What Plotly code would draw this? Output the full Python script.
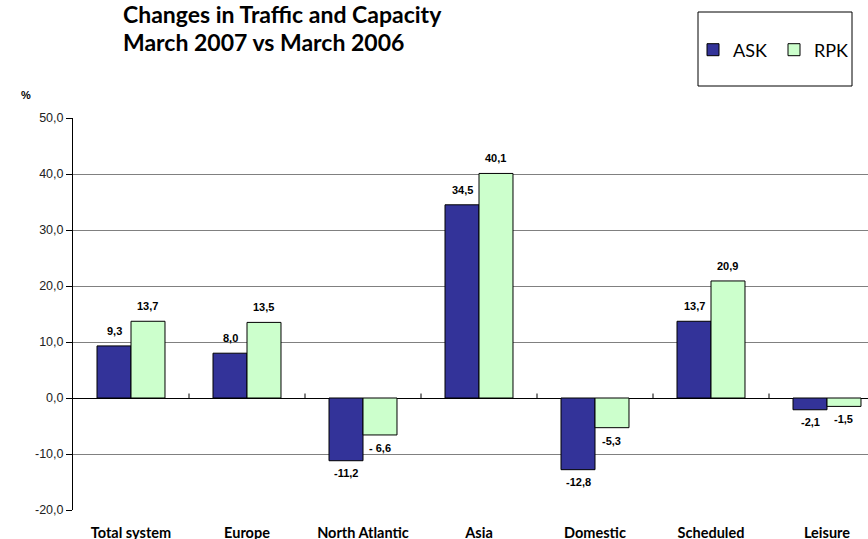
import plotly.graph_objects as go

categories = ["Total system", "Europe", "North Atlantic", "Asia", "Domestic", "Scheduled", "Leisure"]
ask_values = [9.3, 8.0, -11.2, 34.5, -12.8, 13.7, -2.1]
rpk_values = [13.7, 13.5, -6.6, 40.1, -5.3, 20.9, -1.5]
ask_labels = ["9,3", "8,0", "-11,2", "34,5", "-12,8", "13,7", "-2,1"]
rpk_labels = ["13,7", "13,5", "- 6,6", "40,1", "-5,3", "20,9", "-1,5"]
y_ticks = [-20, -10, 0, 10, 20, 30, 40, 50]
y_ticklabels = ["-20,0", "-10,0", "0,0", "10,0", "20,0", "30,0", "40,0", "50,0"]

W, H = 868, 539
L, R, T, B = 73, 0, 118, 29
pw = W - L - R
ph = H - T - B

def px_x(p):
    return (p - L) / pw

def px_y(p):
    return (H - B - p) / ph

BARGAP = 0.414
half = (1 - BARGAP) / 4.0  # offset of each bar centre from category centre

label_font = dict(family="Arial, Liberation Sans, sans-serif", size=11, color="black")

fig = go.Figure()
fig.add_trace(go.Bar(
    x=categories, y=ask_values, name="ASK",
    marker=dict(color="#333399", line=dict(color="black", width=1)),
))
fig.add_trace(go.Bar(
    x=categories, y=rpk_values, name="RPK",
    marker=dict(color="#CCFFCC", line=dict(color="black", width=1)),
))

annotations = []
for i, (v, t) in enumerate(zip(ask_values, ask_labels)):
    annotations.append(dict(x=i - half, y=v, xref="x", yref="y", text="<b>%s</b>" % t,
                            showarrow=False, font=label_font,
                            yshift=15 if v >= 0 else -12, xanchor="center", yanchor="middle"))
for i, (v, t) in enumerate(zip(rpk_values, rpk_labels)):
    annotations.append(dict(x=i + half, y=v, xref="x", yref="y", text="<b>%s</b>" % t,
                            showarrow=False, font=label_font,
                            yshift=15 if v >= 0 else -13, xanchor="center", yanchor="middle"))

n = len(categories)
visible_cats = pw / 116.0
shapes = []
for i in range(n - 1):
    shapes.append(dict(type="line", xref="x", yref="y", x0=i + 0.5, x1=i + 0.5,
                       y0=0, y1=0.8, line=dict(color="black", width=1)))
shapes.append(dict(type="rect", xref="paper", yref="paper",
                   x0=px_x(698), x1=px_x(852), y0=px_y(86), y1=px_y(12),
                   line=dict(color="black", width=1), fillcolor="white", layer="below"))

title_font = dict(family="Lato, Open Sans, sans-serif", size=23, color="black")
annotations += [
    dict(text="<b>Changes in Traffic and Capacity</b>", xref="paper", yref="paper",
         x=px_x(121), y=px_y(14), xanchor="left", yanchor="middle", showarrow=False, font=title_font),
    dict(text="<b>March 2007 vs March 2006</b>", xref="paper", yref="paper",
         x=px_x(121), y=px_y(42), xanchor="left", yanchor="middle", showarrow=False, font=title_font),
    dict(text="<b>%</b>", xref="paper", yref="paper",
         x=px_x(26), y=px_y(95), xanchor="center", yanchor="middle", showarrow=False,
         font=dict(family="Arial, sans-serif", size=11, color="black")),
]

fig.update_layout(
    width=W, height=H,
    margin=dict(l=L, r=R, t=T, b=B, pad=0, autoexpand=False),
    paper_bgcolor="white", plot_bgcolor="white",
    barmode="group", bargap=BARGAP, bargroupgap=0,
    showlegend=True,
    legend=dict(orientation="h", x=px_x(693), y=px_y(50), xanchor="left", yanchor="middle",
                font=dict(family="Lato, Open Sans, sans-serif", size=18, color="black"),
                bgcolor="rgba(0,0,0,0)", borderwidth=0, itemwidth=30, traceorder="normal",
                entrywidth=36, entrywidthmode="pixels"),
    shapes=shapes,
    annotations=annotations,
    xaxis=dict(range=[-0.5, -0.5 + visible_cats], showgrid=False, showline=False,
               zeroline=False, ticks="", tickangle=0, automargin=False,
               tickfont=dict(family="Lato, Open Sans, sans-serif", size=14.5, color="black"),
               ticklabelstandoff=12),
    yaxis=dict(range=[-20, 50], tickvals=y_ticks, ticktext=y_ticklabels, automargin=False,
               showgrid=True, gridcolor="#808080", gridwidth=1,
               zeroline=True, zerolinecolor="black", zerolinewidth=1,
               showline=True, linecolor="black", linewidth=1,
               ticks="outside", ticklen=6, tickcolor="black",
               tickfont=dict(family="Arial, Liberation Sans, sans-serif", size=12.5, color="#222222")),
)
fig.update_xaxes(tickprefix="<b>", ticksuffix="</b>")

fig.write_html("out.html", config={"displayModeBar": False},
               post_script="document.body.style.margin='0';document.body.style.overflow='hidden';")
